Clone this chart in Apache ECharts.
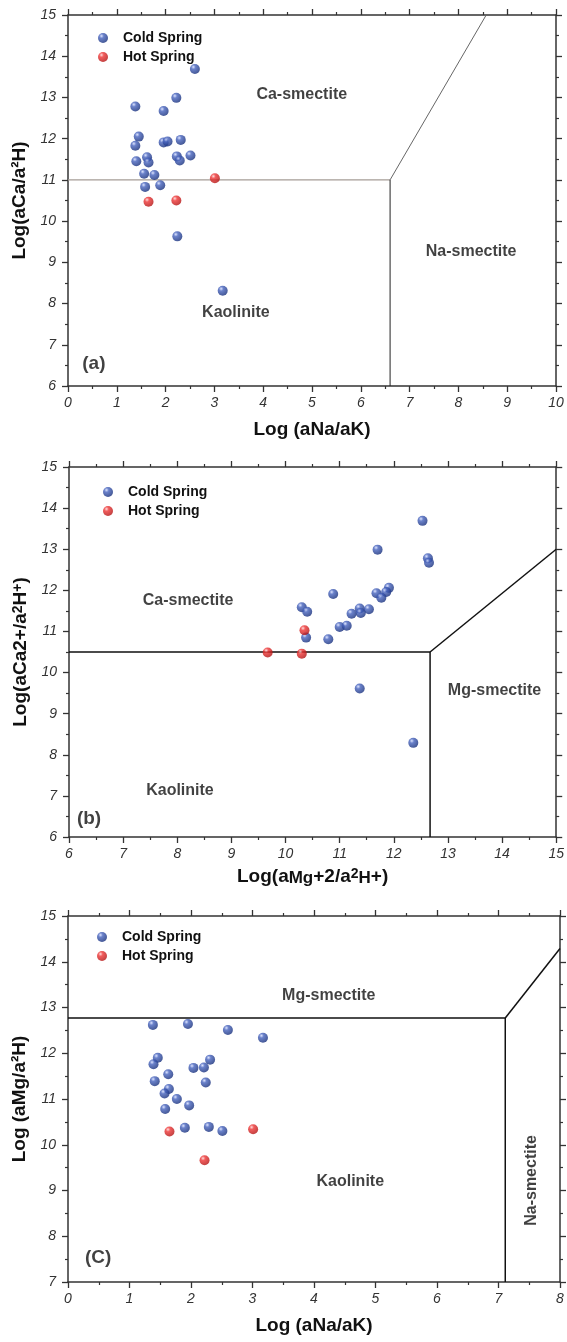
<!DOCTYPE html>
<html>
<head>
<meta charset="utf-8">
<script src="https://cdn.jsdelivr.net/npm/echarts@6/dist/echarts.min.js"></script>
<style>
  html, body { margin: 0; padding: 0; background: #fff; }
  #main { width: 567px; height: 1342px; }
</style>
</head>
<body>
<div id="main"></div>
<script>
// ---------- data ----------
// (a) Log(aNa/aK) vs Log(aCa/a2H)
var aCold = [[2.60,13.69],[2.22,12.99],[1.38,12.78],[1.96,12.67],[1.45,12.05],[1.38,11.83],
  [1.96,11.91],[2.04,11.93],[2.31,11.97],[1.40,11.45],[1.62,11.55],[1.65,11.42],[2.23,11.57],
  [2.29,11.47],[2.51,11.59],[1.56,11.15],[1.77,11.12],[1.58,10.83],[1.89,10.87],[2.24,9.63],[3.17,8.31]];
var aHot = [[1.65,10.47],[2.22,10.50],[3.01,11.04]];
var aFieldH = [[0,11],[6.6,11]];
var aFieldV = [[6.6,11],[6.6,6]];
var aFieldD = [[6.6,11],[8.57,15]];

// (b) Log(aMg/a2H) vs Log(aCa/a2H)
var bCold = [[12.53,13.69],[11.70,12.99],[12.63,12.78],[12.65,12.67],[10.88,11.91],[11.91,12.06],
  [11.86,11.96],[11.68,11.93],[11.77,11.82],[10.30,11.59],[10.40,11.48],[11.37,11.56],[11.54,11.54],
  [11.39,11.45],[11.22,11.43],[11.00,11.11],[11.13,11.14],[10.38,10.85],[10.79,10.81],[11.37,9.61],[12.36,8.29]];
var bHot = [[10.35,11.03],[9.67,10.49],[10.30,10.46]];
var bField = [[6,10.5],[12.67,10.5],[12.67,6]];
var bFieldD = [[12.67,10.5],[15,13.0]];

// (c) Log(aNa/aK) vs Log(aMg/a2H)
var cCold = [[1.38,12.62],[1.95,12.64],[2.60,12.51],[3.17,12.34],[1.46,11.90],[1.39,11.76],
  [2.31,11.86],[2.04,11.68],[2.21,11.69],[1.63,11.54],[1.41,11.39],[2.24,11.36],[1.64,11.22],
  [1.57,11.12],[1.77,11.00],[1.97,10.86],[1.58,10.78],[1.90,10.37],[2.29,10.39],[2.51,10.30]];
var cHot = [[1.65,10.29],[3.01,10.34],[2.22,9.66]];
var cField = [[0,12.77],[7.11,12.77],[7.11,7]];
var cFieldD = [[7.11,12.77],[8,14.29]];

// field names
var aNames = [{name:'Ca-smectite',value:[4.79,13.08]},{name:'Na-smectite',value:[8.26,9.26]},{name:'Kaolinite',value:[3.44,7.79]}];
var bNames = [{name:'Ca-smectite',value:[8.20,11.75]},{name:'Kaolinite',value:[8.05,7.13]},{name:'Mg-smectite',value:[13.86,9.57]}];
var cNames = [{name:'Mg-smectite',value:[4.24,13.25]},{name:'Kaolinite',value:[4.59,9.20]}];
var cNamesV = [{name:'Na-smectite',value:[7.54,9.22]}];
var panelTags = [{name:'(a)',value:[0.53,6.55]},{name:'(b)',value:[6.37,6.44]},{name:'(C)',value:[0.49,7.52]}];

// ---------- chart ----------
var chart = echarts.init(document.getElementById('main'), null, {renderer: 'canvas'});
var FONT = '"Liberation Sans", Arial, sans-serif';
var AXC = '#333';

var blue = new echarts.graphic.RadialGradient(0.35, 0.3, 0.75, [
  {offset: 0, color: '#d4ddff'}, {offset: 0.3, color: '#4562bd'}, {offset: 1, color: '#142c78'}]);
var red = new echarts.graphic.RadialGradient(0.35, 0.3, 0.75, [
  {offset: 0, color: '#ffd6d6'}, {offset: 0.3, color: '#ee3434'}, {offset: 1, color: '#b01010'}]);

var richName = {
  n: {fontFamily: FONT, fontWeight: 'bold', fontSize: 19, lineHeight: 20, verticalAlign: 'middle', color: '#111'},
  p: {fontFamily: FONT, fontWeight: 'bold', fontSize: 14, lineHeight: 14, verticalAlign: 'top', color: '#111'},
  s: {fontFamily: FONT, fontWeight: 'bold', fontSize: 17, lineHeight: 17, verticalAlign: 'bottom', color: '#111'}
};

function xPair(grid, min, max, name, gap) {
  var base = {
    gridIndex: grid, type: 'value', min: min, max: max, interval: 1,
    axisLine: {show: true, onZero: false, lineStyle: {color: AXC, width: 1.5}},
    axisTick: {show: true, length: 6, lineStyle: {color: AXC, width: 1.3}},
    minorTick: {show: true, splitNumber: 2, length: 3, lineStyle: {color: AXC, width: 1.2}},
    splitLine: {show: false}
  };
  var bottom = echarts.util.merge({
    position: 'bottom', name: name, nameLocation: 'middle', nameGap: gap,
    nameTextStyle: {fontFamily: FONT, fontWeight: 'bold', fontSize: 19, color: '#111', rich: richName},
    axisLabel: {fontFamily: FONT, fontStyle: 'italic', fontSize: 14, color: '#333', margin: 10}
  }, base, true);
  var top = echarts.util.merge({position: 'top', axisLabel: {show: false}}, base, true);
  return [bottom, top];
}
function yPair(grid, min, max, name) {
  var base = {
    gridIndex: grid, type: 'value', min: min, max: max, interval: 1,
    axisLine: {show: true, onZero: false, lineStyle: {color: AXC, width: 1.5}},
    axisTick: {show: true, length: 6, lineStyle: {color: AXC, width: 1.3}},
    minorTick: {show: true, splitNumber: 2, length: 3, lineStyle: {color: AXC, width: 1.2}},
    splitLine: {show: false}
  };
  var left = echarts.util.merge({
    position: 'left', name: name, nameLocation: 'middle', nameGap: 38,
    nameTextStyle: {fontFamily: FONT, fontWeight: 'bold', fontSize: 19, color: '#111', rich: richName},
    axisLabel: {fontFamily: FONT, fontStyle: 'italic', fontSize: 14, color: '#333', margin: 12}
  }, base, true);
  var right = echarts.util.merge({position: 'right', axisLabel: {show: false}}, base, true);
  return [left, right];
}

var xAxes = [].concat(
  xPair(0, 0, 10, 'Log (aNa/aK)', 34),
  xPair(1, 6, 15, '{n|Log(a}{s|Mg}{n|+2/a}{p|2}{s|H}{n|+)}', 30),
  xPair(2, 0, 8, 'Log (aNa/aK)', 34)
);
var yAxes = [].concat(
  yPair(0, 6, 15, 'Log(aCa/a²H)'),
  yPair(1, 6, 15, '{n|Log(aCa2+/a}{p|2}{n|H}{p|+}{n|)}'),
  yPair(2, 7, 15, 'Log (aMg/a²H)')
);

function pts(name, data, idx, color) {
  return {name: name, type: 'scatter', xAxisIndex: idx * 2, yAxisIndex: idx * 2, data: data,
    symbol: 'circle', symbolSize: 10, itemStyle: {color: color}, z: 5};
}
function boundary(data, idx, color, width) {
  return {type: 'line', xAxisIndex: idx * 2, yAxisIndex: idx * 2, data: data, symbol: 'none',
    silent: true, lineStyle: {color: color, width: width}, z: 3};
}
function names(data, idx, size, rotate) {
  return {type: 'scatter', xAxisIndex: idx * 2, yAxisIndex: idx * 2, data: data, symbolSize: 1,
    silent: true, itemStyle: {color: 'rgba(0,0,0,0)'}, z: 4,
    label: {show: true, position: 'inside', formatter: '{b}', rotate: rotate || 0,
      fontFamily: FONT, fontWeight: 'bold', fontSize: size, color: '#111'}};
}
function legendAt(left, top) {
  return {data: ['Cold Spring', 'Hot Spring'], orient: 'vertical', left: left, top: top,
    icon: 'circle', itemWidth: 10, itemHeight: 10, itemGap: 3, selectedMode: false,
    textStyle: {fontFamily: FONT, fontWeight: 'bold', fontSize: 14, lineHeight: 16, color: '#111',
      padding: [0, 0, 0, 10]}};
}

var option = {
  animation: false,
  backgroundColor: '#fff',
  grid: [
    {left: 68, top: 15, width: 488, height: 371},
    {left: 69, top: 467, width: 489, height: 370},
    {left: 68, top: 916, width: 492, height: 366}
  ],
  xAxis: xAxes,
  yAxis: yAxes,
  legend: [legendAt(93, 25), legendAt(98, 479), legendAt(92, 924)],
  series: [
    boundary(aFieldH, 0, '#a59c96', 1.3),
    boundary(aFieldV, 0, '#222', 1),
    boundary(aFieldD, 0, '#666', 1),
    boundary(bField, 1, '#111', 1.5),
    boundary(bFieldD, 1, '#111', 1.5),
    boundary(cField, 2, '#111', 1.5),
    boundary(cFieldD, 2, '#111', 1.5),
    names(aNames, 0, 16),
    names(bNames, 1, 16),
    names(cNames, 2, 16),
    names(cNamesV, 2, 16, 90),
    names([panelTags[0]], 0, 19),
    names([panelTags[1]], 1, 19),
    names([panelTags[2]], 2, 19),
    pts('Cold Spring', aCold, 0, blue),
    pts('Hot Spring', aHot, 0, red),
    pts('Cold Spring', bCold, 1, blue),
    pts('Hot Spring', bHot, 1, red),
    pts('Cold Spring', cCold, 2, blue),
    pts('Hot Spring', cHot, 2, red)
  ]
};

chart.setOption(option);
</script>
</body>
</html>
